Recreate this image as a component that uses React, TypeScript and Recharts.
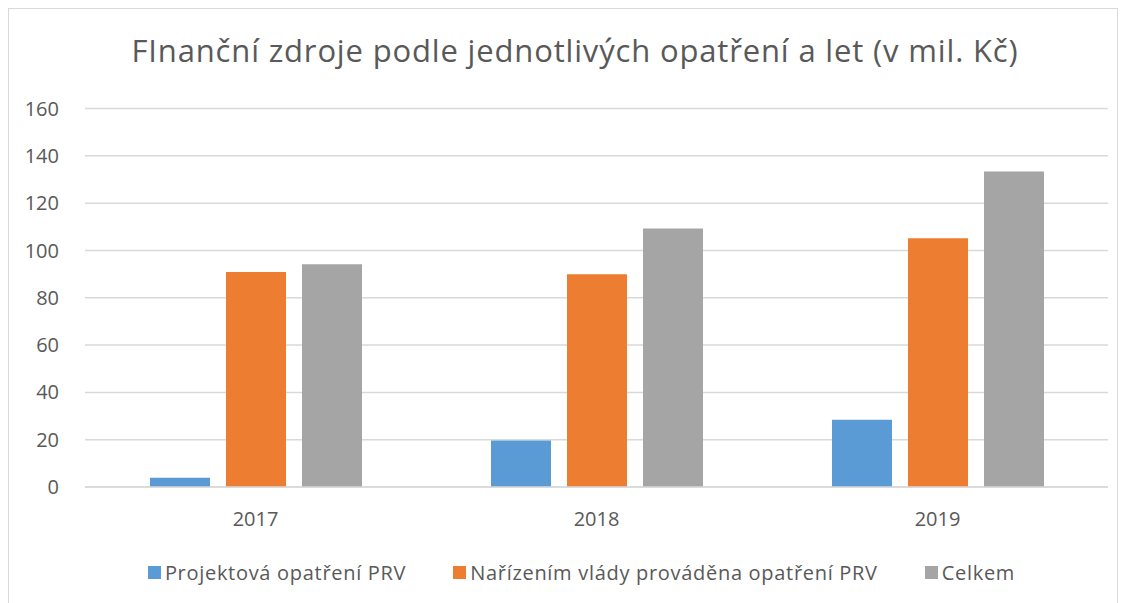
import React from "react";
import { BarChart, Bar, XAxis, YAxis, CartesianGrid, Legend } from "recharts";

const categories = ["2017", "2018", "2019"];
const projektova = [3.9, 19.7, 28.4];
const narizenim = [90.9, 89.9, 105.2];
const celkem = [94.2, 109.3, 133.4];
const yTicks = [0, 20, 40, 60, 80, 100, 120, 140, 160];

const seriesNames = [
  "Projektová opatření PRV",
  "Nařízením vlády prováděna opatření PRV",
  "Celkem",
];
const colors = ["#5B9BD5", "#ED7D31", "#A5A5A5"];

const data = categories.map((c, i) => ({
  year: c,
  a: projektova[i],
  b: narizenim[i],
  c: celkem[i],
}));

const FONT = "'Open Sans', 'Liberation Sans', sans-serif";
const TXT = "#595959";

const LegendContent = () => {
  return (
    <div style={{ display: "flex", justifyContent: "center", alignItems: "center", fontFamily: FONT, fontSize: 20, letterSpacing: 0.7, color: TXT, paddingTop: 22, paddingLeft: 46 }}>
      {seriesNames.map((name, i) => (
        <div key={i} style={{ display: "flex", alignItems: "center", marginRight: i < 2 ? 47 : 0 }}>
          <span style={{ display: "inline-block", width: 13, height: 13, background: colors[i], marginRight: 4 }} />
          <span>{name}</span>
        </div>
      ))}
    </div>
  );
};

export default function App() {
  return (
    <div style={{ position: "relative", width: 1110, height: 600, border: "1px solid #d9d9d9", boxSizing: "border-box", background: "#fff" }}>
      <div style={{ position: "absolute", top: 20, left: 12, width: 1108, textAlign: "center", fontFamily: FONT, fontSize: 31, letterSpacing: 0.84, lineHeight: "42px", color: TXT }}>
        FInanční zdroje podle jednotlivých opatření a let (v mil. Kč)
      </div>
      <BarChart
        width={1108}
        height={590}
        data={data}
        margin={{ top: 99.5, right: 9, bottom: 0, left: 0 }}
        barGap={16}
        barSize={60}
      >
        <CartesianGrid vertical={false} stroke="#d9d9d9" strokeWidth={1.5} />
        <XAxis
          dataKey="year"
          axisLine={{ stroke: "#d9d9d9", strokeWidth: 1.5 }}
          tickLine={false}
          tick={{ fill: TXT, fontSize: 20, fontFamily: FONT }}
          tickMargin={19}
          height={50}
        />
        <YAxis
          domain={[0, 160]}
          ticks={yTicks}
          axisLine={false}
          tickLine={false}
          width={76}
          tickMargin={20}
          tick={{ fill: TXT, fontSize: 20, fontFamily: FONT }}
          interval={0}
        />
        <Legend verticalAlign="bottom" height={62} content={<LegendContent />} />
        <Bar dataKey="a" name={seriesNames[0]} fill={colors[0]} isAnimationActive={false} />
        <Bar dataKey="b" name={seriesNames[1]} fill={colors[1]} isAnimationActive={false} />
        <Bar dataKey="c" name={seriesNames[2]} fill={colors[2]} isAnimationActive={false} />
      </BarChart>
    </div>
  );
}
